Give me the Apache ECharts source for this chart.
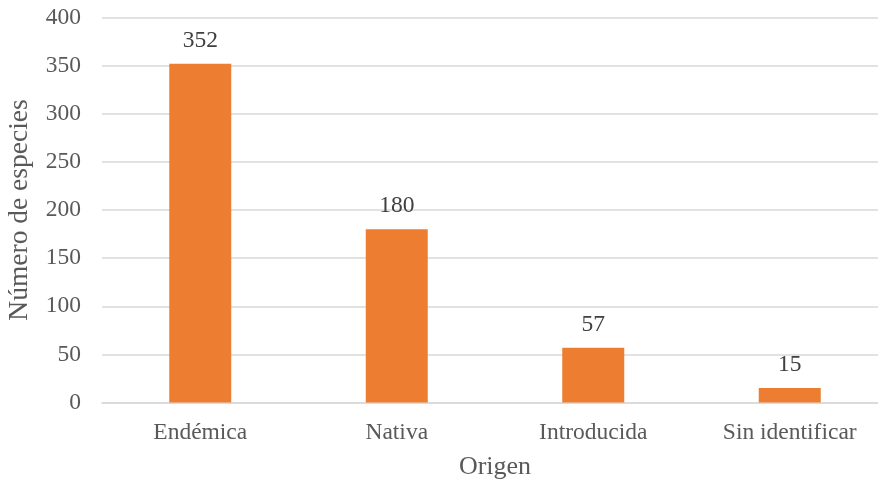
<!DOCTYPE html>
<html><head><meta charset="utf-8">
<script src="https://cdn.jsdelivr.net/npm/echarts@6/dist/echarts.min.js"></script>
<style>html,body{margin:0;padding:0;background:#fff}#c{width:878px;height:482px}</style>
</head><body><div id="c"></div>
<script>
const categories = ['Endémica', 'Nativa', 'Introducida', 'Sin identificar'];
const values = [352, 180, 57, 15];
const yTicks = [0, 50, 100, 150, 200, 250, 300, 350, 400];
const font = '"Liberation Serif", "Times New Roman", serif';
const chart = echarts.init(document.getElementById('c'));
chart.setOption({
  animation: false,
  grid: { left: 102, top: 17.5, width: 786, height: 385, containLabel: false, outerBoundsMode: 'none' },
  xAxis: {
    type: 'category', data: categories,
    name: 'Origen', nameLocation: 'middle', nameGap: 52,
    nameTextStyle: { fontFamily: font, fontSize: 26, color: '#595959' },
    axisLine: { lineStyle: { color: '#d9d9d9', width: 1.5 } },
    axisTick: { show: false },
    axisLabel: { fontFamily: font, fontSize: 23.5, color: '#595959', margin: 18 }
  },
  yAxis: {
    type: 'value', min: yTicks[0], max: yTicks[yTicks.length - 1], interval: 50,
    name: 'Número de especies', nameLocation: 'middle', nameGap: 68,
    nameTextStyle: { fontFamily: font, fontSize: 27.5, color: '#595959' },
    axisLine: { show: false }, axisTick: { show: false },
    splitLine: { lineStyle: { color: '#d9d9d9', width: 1.5 } },
    axisLabel: { fontFamily: font, fontSize: 23.5, color: '#595959', margin: 21 }
  },
  series: [{
    type: 'bar', data: values, barWidth: 62,
    itemStyle: { color: '#ED7D31' },
    label: { show: true, position: 'top', distance: 11, fontFamily: font, fontSize: 23.5, color: '#404040' }
  }]
});
</script></body></html>
